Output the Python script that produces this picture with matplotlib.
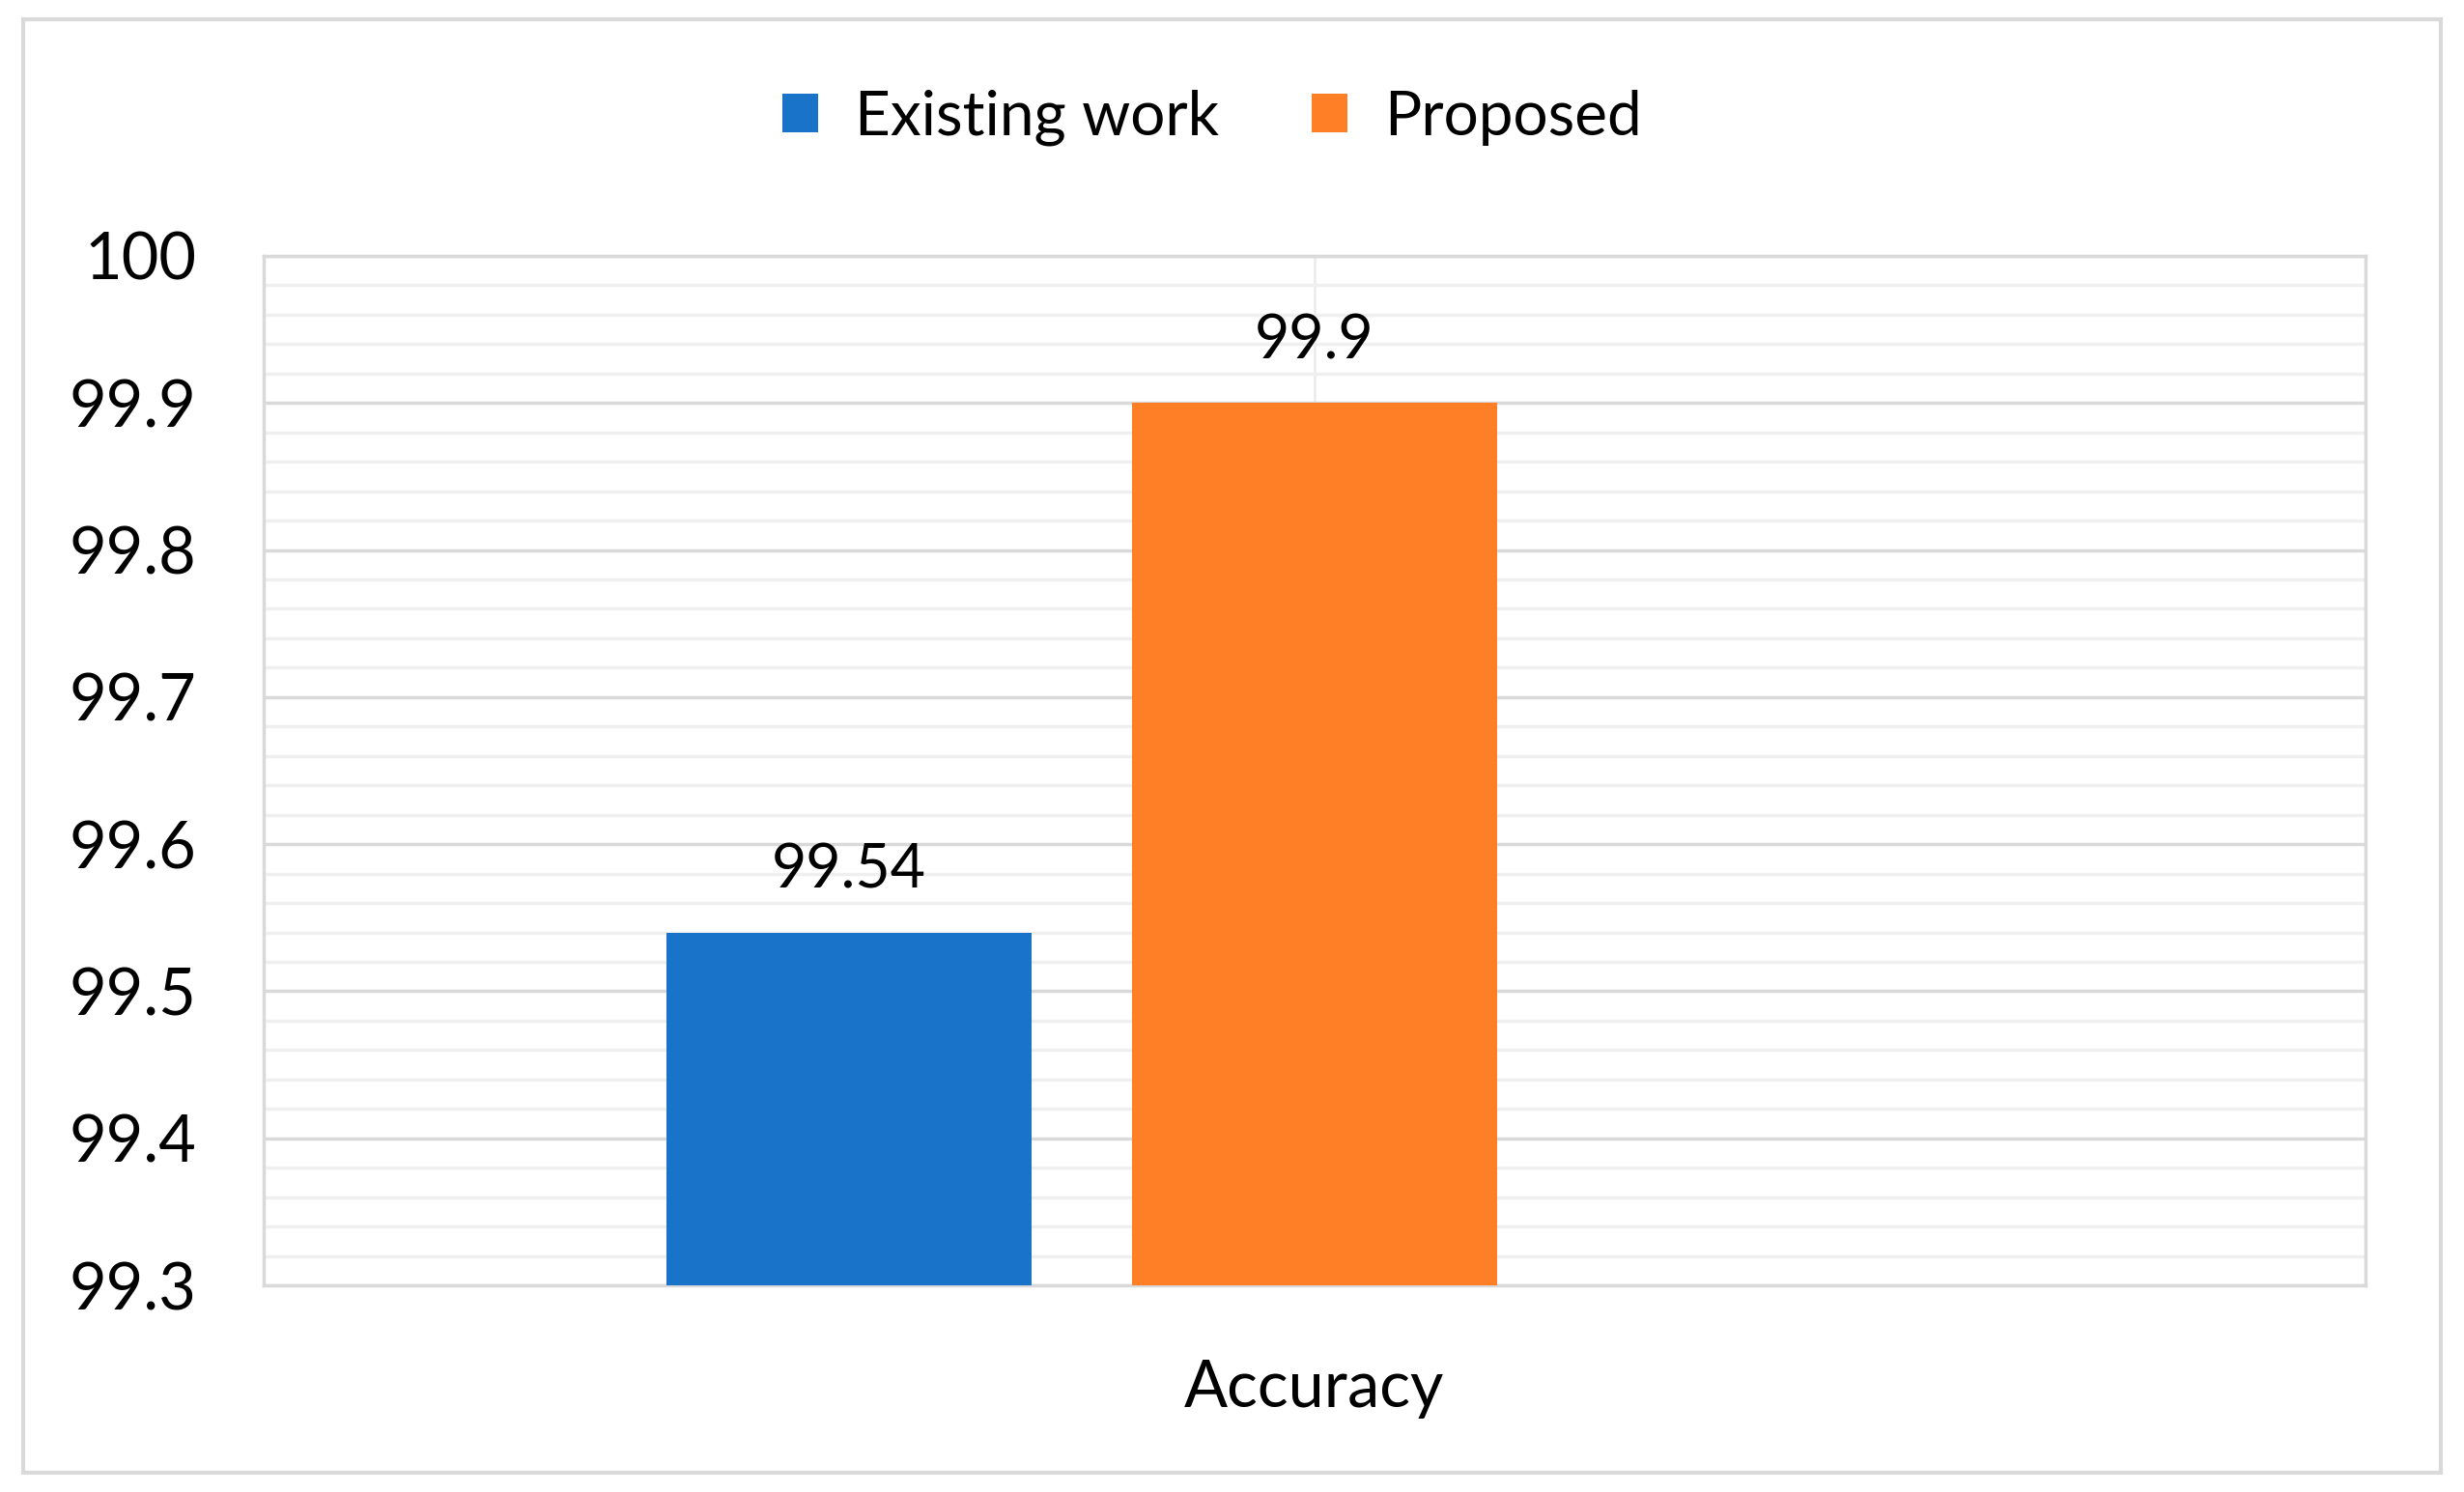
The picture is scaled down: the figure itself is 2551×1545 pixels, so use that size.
import numpy as np
import matplotlib.pyplot as plt
from matplotlib.patches import Rectangle
from matplotlib.ticker import MultipleLocator

plt.rcParams['font.family'] = ['Lato', 'DejaVu Sans']

# data
category = 'Accuracy'
series_names = ['Existing work', 'Proposed']
series_values = [99.54, 99.9]
series_colors = ['#1873c9', '#ff7f27']

fig = plt.figure(figsize=(25.51, 15.45), dpi=100)
ax = fig.add_axes([0.107, 0.1385, 0.853, 0.690])

# outer chart border
fig.patches.append(Rectangle((0.0094, 0.013), 0.9812, 0.9742, transform=fig.transFigure,
                             fill=False, edgecolor='#d9d9d9', linewidth=3))

bar_w = 0.1737
offsets = [-0.2215, 0.0]
for name, val, col, off in zip(series_names, series_values, series_colors, offsets):
    ax.bar(off, val - 99.3, width=bar_w, bottom=99.3, color=col, label=name, zorder=3)
    ax.annotate(f'{val:g}', xy=(off, val), xytext=(0, 46), textcoords='offset points',
                ha='center', va='center', fontsize=45, color='black')

ax.set_xlim(-0.5, 0.5)
ax.set_ylim(99.3, 100)
ax.yaxis.set_major_locator(MultipleLocator(0.1))
ax.yaxis.set_minor_locator(MultipleLocator(0.02))
ax.set_yticklabels([f'{v:g}' for v in ax.get_yticks()])
ax.set_xticks([0])
ax.set_xticklabels([category])

ax.grid(axis='y', which='major', color='#d9d9d9', linewidth=2.5, zorder=1)
ax.grid(axis='y', which='minor', color='#efefef', linewidth=2.5, zorder=0)
ax.grid(axis='x', which='major', color='#ececec', linewidth=2, zorder=0)

for sp in ax.spines.values():
    sp.set_color('#d9d9d9')
    sp.set_linewidth(2.5)

ax.tick_params(axis='y', which='both', length=0, labelsize=48, pad=50)
ax.tick_params(axis='x', length=0, labelsize=48, pad=55)

fig.legend(loc='center', bbox_to_anchor=(0.492, 0.921), ncol=2, frameon=False,
           fontsize=46, handlelength=0.58, handleheight=0.58,
           handletextpad=0.6, columnspacing=1.5)

fig.savefig('out.png', dpi=100)
